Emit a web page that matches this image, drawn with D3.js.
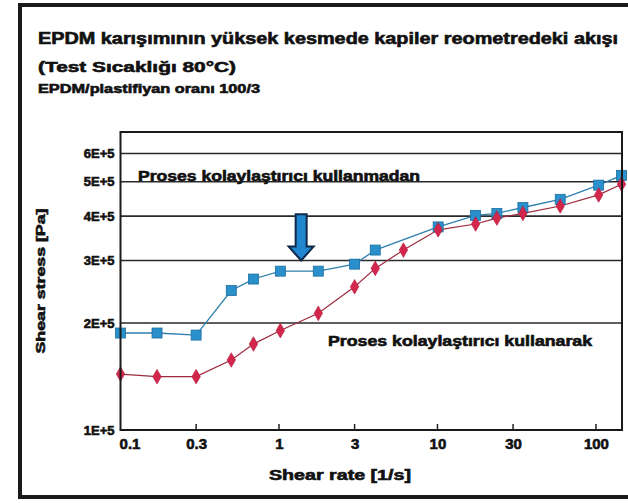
<!DOCTYPE html>
<html>
<head>
<meta charset="utf-8">
<script src="https://cdn.jsdelivr.net/npm/d3@7"></script>
<style>
  html, body { margin: 0; padding: 0; background: #ffffff; }
  svg { display: block; }
  text { font-family: "Liberation Sans", Arial, sans-serif; font-weight: bold; fill: #111; stroke: #111; stroke-width: 0.6; }
</style>
</head>
<body>
<svg id="chart" width="628" height="503"></svg>
<script>
// Shear rate [1/s] of each measurement
const shearRateNoAid = [0.1, 0.17, 0.3, 0.5, 0.69, 1.02, 1.77, 3.0, 4.05, 10.1, 17.4, 23.7, 34.6, 59.5, 104, 145];
const shearRateWithAid = [0.1, 0.17, 0.3, 0.5, 0.69, 1.02, 1.77, 3.0, 4.05, 6.1, 10.1, 17.4, 23.7, 34.6, 59.5, 104, 145];

// Shear stress [Pa]
const stressNoAid = [1.875e5, 1.875e5, 1.85e5, 2.47e5, 2.66e5, 2.8e5, 2.8e5, 2.93e5, 3.21e5, 3.73e5, 4.02e5, 4.07e5, 4.23e5, 4.46e5, 4.89e5, 5.21e5];
const stressWithAid = [1.437e5, 1.413e5, 1.413e5, 1.574e5, 1.746e5, 1.905e5, 2.13e5, 2.53e5, 2.85e5, 3.21e5, 3.66e5, 3.8e5, 3.95e5, 4.07e5, 4.27e5, 4.59e5, 4.92e5];

// Axis ticks
const xTicks = [0.1, 0.3, 1, 3, 10, 30, 100];
const xTickLabels = ["0.1", "0.3", "1", "3", "10", "30", "100"];
const yTicks = [1e5, 2e5, 3e5, 4e5, 5e5, 6e5];
const yTickLabels = ["1E+5", "2E+5", "3E+5", "4E+5", "5E+5", "6E+5"];

const titleLines = [
  "EPDM karışımının yüksek kesmede kapiler reometredeki akışı",
  "(Test Sıcaklığı 80°C)",
  "EPDM/plastifiyan oranı 100/3"
];
const labelNoAid = "Proses kolaylaştırıcı kullanmadan";
const labelWithAid = "Proses kolaylaştırıcı kullanarak";

(function draw() {
  const svg = d3.select("#chart");

  const plotL = 120.5, plotR = 622, plotT = 132, plotB = 430;
  const x = d3.scaleLog().domain([0.1, 146]).range([plotL, plotR]);
  const y = d3.scaleLog().domain([1e5, 6.9e5]).range([plotB, plotT]);

  // outer frame
  svg.append("rect")
    .attr("x", 20).attr("y", 5).attr("width", 640).attr("height", 492)
    .attr("fill", "#fff").attr("stroke", "#1a1a1a").attr("stroke-width", 4);

  // titles
  const titleSpec = [
    {y: 44, size: 16, len: 580},
    {y: 72, size: 15, len: 198},
    {y: 93, size: 12.5, len: 222}
  ];
  titleLines.forEach((t, i) => {
    svg.append("text")
      .attr("x", 38).attr("y", titleSpec[i].y)
      .attr("font-size", titleSpec[i].size)
      .attr("textLength", titleSpec[i].len)
      .attr("lengthAdjust", "spacingAndGlyphs")
      .text(t);
  });

  // plot background
  svg.append("rect")
    .attr("x", plotL).attr("y", plotT).attr("width", plotR - plotL).attr("height", plotB - plotT)
    .attr("fill", "#fff");

  // horizontal gridlines
  svg.append("g")
    .selectAll("line")
    .data(yTicks.slice(1))
    .join("line")
    .attr("x1", plotL).attr("x2", plotR)
    .attr("y1", d => y(d)).attr("y2", d => y(d))
    .attr("stroke", "#2a2a2a").attr("stroke-width", 1.6);

  // y axis labels
  const yAxis = d3.axisLeft(y).tickValues(yTicks)
    .tickFormat((d, i) => yTickLabels[i]).tickSize(0).tickPadding(6);
  const gy = svg.append("g").attr("transform", `translate(${plotL},0)`).call(yAxis);
  gy.select(".domain").remove();
  gy.selectAll("text")
    .attr("font-size", 13).attr("font-family", "Liberation Sans, Arial, sans-serif")
    .attr("font-weight", "bold").attr("fill", "#111");

  // x axis with inward ticks
  const xAxis = d3.axisBottom(x).tickValues(xTicks)
    .tickFormat((d, i) => xTickLabels[i]).tickSize(0).tickPadding(8);
  const gx = svg.append("g").attr("transform", `translate(0,${plotB})`).call(xAxis);
  gx.select(".domain").remove();
  gx.selectAll("text")
    .attr("font-size", 15).attr("font-family", "Liberation Sans, Arial, sans-serif")
    .attr("font-weight", "bold").attr("fill", "#111")
    .attr("dx", (d, i) => i === 0 ? 9 : 0);
  svg.append("g")
    .selectAll("line")
    .data(xTicks.slice(1))
    .join("line")
    .attr("x1", d => x(d)).attr("x2", d => x(d))
    .attr("y1", plotB).attr("y2", plotB - 6)
    .attr("stroke", "#222").attr("stroke-width", 1.5);

  // series lines
  const lineNoAid = d3.line().x((d, i) => x(shearRateNoAid[i])).y(d => y(d));
  const lineWithAid = d3.line().x((d, i) => x(shearRateWithAid[i])).y(d => y(d));

  svg.append("path").datum(stressNoAid)
    .attr("d", lineNoAid).attr("fill", "none")
    .attr("stroke", "#2e7fae").attr("stroke-width", 1.3);
  svg.append("path").datum(stressWithAid)
    .attr("d", lineWithAid).attr("fill", "none")
    .attr("stroke", "#9c2a3c").attr("stroke-width", 1.2);

  // markers
  svg.append("g").selectAll("rect")
    .data(stressNoAid)
    .join("rect")
    .attr("x", (d, i) => x(shearRateNoAid[i]) - 5)
    .attr("y", d => y(d) - 5)
    .attr("width", 10).attr("height", 10)
    .attr("fill", "#2990cc").attr("stroke", "#1d6d9e").attr("stroke-width", 0.8);

  svg.append("g").selectAll("path")
    .data(stressWithAid)
    .join("path")
    .attr("transform", (d, i) => `translate(${x(shearRateWithAid[i])},${y(d)})`)
    .attr("d", d3.symbol().type(d3.symbolDiamond).size(62))
    .attr("fill", "#d3264c").attr("stroke", "#b01c3c").attr("stroke-width", 0.6);

  // plot border
  svg.append("rect")
    .attr("x", plotL).attr("y", plotT).attr("width", plotR - plotL).attr("height", plotB - plotT)
    .attr("fill", "none").attr("stroke", "#1a1a1a").attr("stroke-width", 2);

  // arrow pointing at the plateau of the series without processing aid
  const ax = x(1.38), aTop = y(4.05e5), aTip = y(3.0e5);
  const shaftW = 5.5, headW = 12.5, headH = 14;
  svg.append("path")
    .attr("d", `M${ax - shaftW},${aTop} L${ax + shaftW},${aTop} L${ax + shaftW},${aTip - headH}
                L${ax + headW},${aTip - headH} L${ax},${aTip} L${ax - headW},${aTip - headH}
                L${ax - shaftW},${aTip - headH} Z`)
    .attr("fill", "#1f86cf").attr("stroke", "#0d2a4a").attr("stroke-width", 2);

  // series annotations
  svg.append("text")
    .attr("x", x(0.129)).attr("y", y(5e5) - 1)
    .attr("font-size", 14).attr("textLength", 282).attr("lengthAdjust", "spacingAndGlyphs")
    .text(labelNoAid);
  svg.append("text")
    .attr("x", x(2.04)).attr("y", y(1.72e5))
    .attr("font-size", 14).attr("textLength", 264).attr("lengthAdjust", "spacingAndGlyphs")
    .text(labelWithAid);

  // axis titles
  svg.append("text")
    .attr("transform", "translate(45,281) rotate(-90)")
    .attr("text-anchor", "middle")
    .attr("font-size", 13).attr("textLength", 145).attr("lengthAdjust", "spacingAndGlyphs")
    .text("Shear stress [Pa]");
  svg.append("text")
    .attr("x", 340).attr("y", 480)
    .attr("text-anchor", "middle")
    .attr("font-size", 14).attr("textLength", 142).attr("lengthAdjust", "spacingAndGlyphs")
    .text("Shear rate [1/s]");
})();
</script>
</body>
</html>
